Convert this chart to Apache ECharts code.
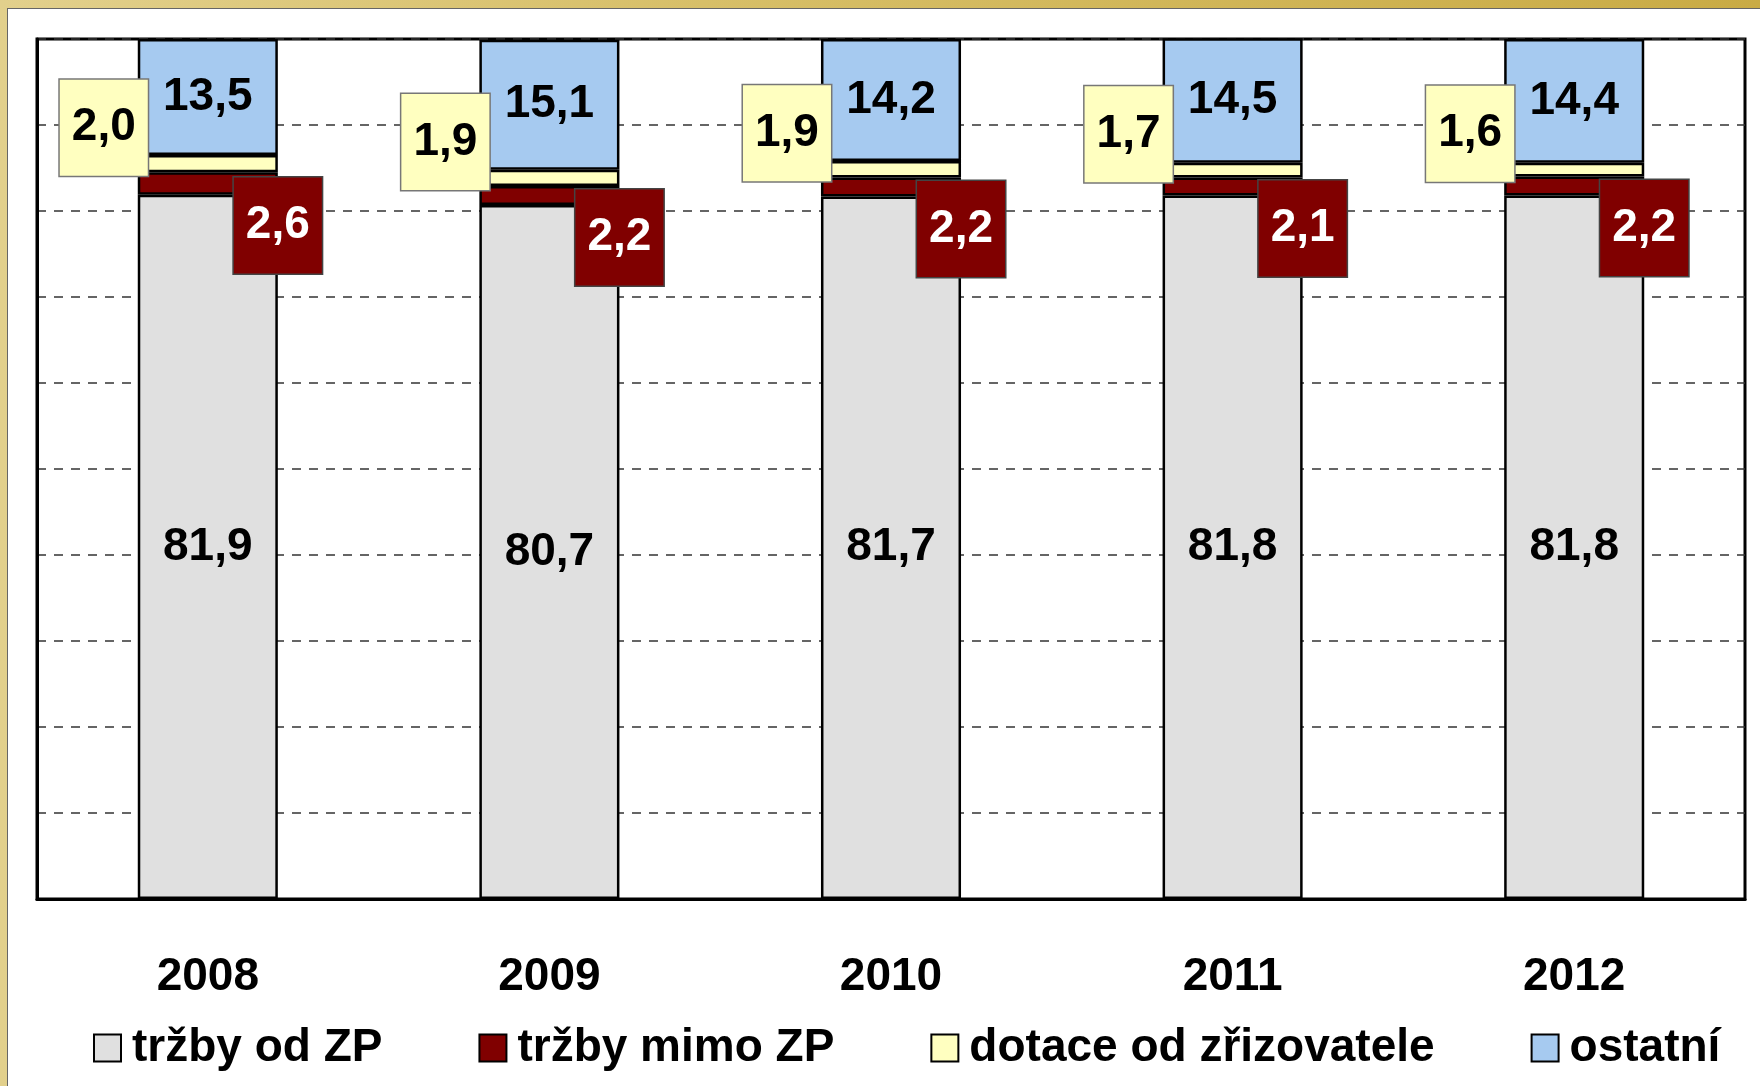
<!DOCTYPE html>
<html>
<head>
<meta charset="utf-8">
<script src="https://cdn.jsdelivr.net/npm/echarts@6/dist/echarts.min.js"></script>
<style>
  body { margin: 0; width: 1760px; height: 1086px; overflow: hidden; }
  #frame { position: absolute; left: 0; top: 0; width: 1760px; height: 1086px;
    background: linear-gradient(90deg, #e2d08c 0%, #d7bf68 40%, #c9ab45 100%); }
  #paper { position: absolute; left: 7px; top: 8px; right: 0; bottom: 0; background: #fff;
    border-left: 1px solid #666; border-top: 1px solid #666; }
  #chart { position: absolute; left: 0; top: 0; width: 1760px; height: 1086px; }
</style>
</head>
<body>
<div id="frame"></div>
<div id="paper"></div>
<div id="chart"></div>
<script>
// roky
var roky = ["2008", "2009", "2010", "2011", "2012"];
// podíly v %
var trzbyZP = [81.9, 80.7, 81.7, 81.8, 81.8];
var trzbyMimo = [2.6, 2.2, 2.2, 2.1, 2.2];
var dotace = [2.0, 1.9, 1.9, 1.7, 1.6];
var ostatni = [13.5, 15.1, 14.2, 14.5, 14.4];

var font = "'Liberation Sans', Arial, sans-serif";

function carka(p) {
    return p.value.toFixed(1).replace(".", ",");
}

var myChart = echarts.init(document.getElementById('chart'), null, {renderer: 'canvas'});

var baseLabel = {
    show: true,
    formatter: carka,
    fontFamily: font,
    fontWeight: 'bold',
    fontSize: 46,
    color: '#000'
};

var option = {
    animation: false,
    backgroundColor: 'transparent',
    grid: {
        left: 37, right: 15, top: 39, bottom: 187,
        show: true, borderColor: '#000', borderWidth: 3, backgroundColor: 'transparent'
    },
    legend: {
        left: 88, top: 1020,
        itemWidth: 27, itemHeight: 27, itemGap: 96,
        icon: 'rect',
        itemStyle: {borderColor: '#000', borderWidth: 2},
        textStyle: {fontFamily: font, fontWeight: 'bold', fontSize: 46, color: '#000', padding: [0, 0, 0, 6]},
        data: ['tržby od ZP', 'tržby mimo ZP', 'dotace od zřizovatele', 'ostatní']
    },
    xAxis: {
        type: 'category',
        data: roky,
        axisLine: {lineStyle: {color: '#000', width: 3}},
        axisTick: {show: false},
        axisLabel: {margin: 55, fontFamily: font, fontWeight: 'bold', fontSize: 46, color: '#000'}
    },
    yAxis: {
        type: 'value', min: 0, max: 100, interval: 10,
        axisLine: {show: true, lineStyle: {color: '#000', width: 3}},
        axisTick: {show: false},
        axisLabel: {show: false},
        splitLine: {lineStyle: {color: '#333', width: 1.5, type: [9, 8]}}
    },
    series: [
        {
            name: 'tržby od ZP', type: 'bar', stack: 'a', barWidth: '41%',
            data: trzbyZP,
            itemStyle: {color: '#e0e0e0', borderColor: '#000', borderWidth: 2.5},
            label: Object.assign({}, baseLabel, {position: 'inside'})
        },
        {
            name: 'tržby mimo ZP', type: 'bar', stack: 'a', z: 3,
            data: trzbyMimo,
            itemStyle: {color: '#800000', borderColor: '#000', borderWidth: 2.5},
            label: Object.assign({}, baseLabel, {
                position: ['100%', '50%'], align: 'center', verticalAlign: 'middle',
                offset: [0, 42], color: '#fff', backgroundColor: '#800000',
                borderColor: '#444', borderWidth: 1.5, width: 64, lineHeight: 46, padding: [25, 12]
            })
        },
        {
            name: 'dotace od zřizovatele', type: 'bar', stack: 'a', z: 3,
            data: dotace,
            itemStyle: {color: '#ffffc0', borderColor: '#000', borderWidth: 2.5},
            label: Object.assign({}, baseLabel, {
                position: ['0%', '50%'], align: 'center', verticalAlign: 'middle',
                offset: [-34, -36], backgroundColor: '#ffffc0',
                borderColor: '#777', borderWidth: 1.5, width: 64, lineHeight: 46, padding: [25, 12]
            })
        },
        {
            name: 'ostatní', type: 'bar', stack: 'a',
            data: ostatni,
            itemStyle: {color: '#a6caf0', borderColor: '#000', borderWidth: 2.5},
            label: Object.assign({}, baseLabel, {position: 'inside'})
        }
    ]
};

myChart.setOption(option);
</script>
</body>
</html>
